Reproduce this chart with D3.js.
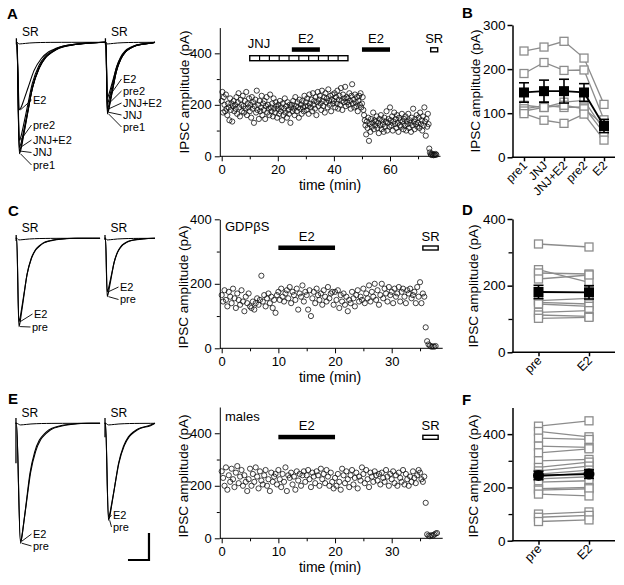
<!DOCTYPE html>
<html>
<head>
<meta charset="utf-8">
<script src="https://cdn.jsdelivr.net/npm/d3@7"></script>
<style>
  body { margin: 0; background: #fff; }
  svg { display: block; }
  text { fill: #000; }
</style>
</head>
<body>
<svg id="fig" width="624" height="585"></svg>
<script>
const FONT = 'Arial, "Liberation Sans", Helvetica, sans-serif';

// ---------------- data ----------------
// one evoked IPSC every 15 s (0.25 min)
const SAMPLE_STEP = 0.25;

const ipscA = [
  215, 250, 170, 230, 200, 175, 240, 185, 160, 205, 190, 140, 225, 180, 205, 135, 195, 215, 175, 200,
  185, 230, 165, 210, 245, 190, 155, 220, 200, 175, 235, 195, 170, 215, 185, 250, 160, 205, 190, 225,
  175, 200, 150, 230, 185, 210, 130, 195, 220, 170, 255, 180, 200, 145, 215, 175, 190, 235, 160, 205,
  180, 215, 145, 195, 230, 170, 200, 185, 160, 240, 190, 175, 205, 155, 225, 185, 170, 210, 195, 150,
  185, 200, 165, 215, 175, 190, 140, 205, 160, 185, 225, 170, 195, 150, 210, 180, 165, 200, 130, 190,
  200, 175, 215, 185, 160, 230, 195, 175, 210, 190, 150, 220, 185, 200, 165, 215, 190, 175, 235, 195,
  210, 180, 225, 195, 165, 240, 205, 190, 220, 175, 245, 200, 215, 185, 230, 160, 210, 250, 195, 220,
  235, 205, 180, 255, 215, 195, 230, 170, 245, 210, 225, 190, 260, 215, 200, 235, 175, 220, 240, 205,
  215, 245, 190, 230, 205, 255, 185, 220, 235, 200, 265, 215, 180, 240, 210, 225, 270, 195, 230, 210,
  225, 200, 245, 215, 185, 235, 280, 205, 220, 190, 240, 210, 195, 230, 175, 215, 235, 200, 245, 190,
  205, 230, 180, 160, 140, 120, 85, 135, 110, 150, 60, 125, 95, 145, 115, 130, 170, 105, 140, 120,
  135, 155, 110, 130, 90, 145, 120, 160, 105, 140, 125, 95, 150, 115, 135, 175, 100, 130, 145, 115,
  190, 140, 120, 155, 100, 135, 170, 125, 145, 110, 160, 130, 95, 150, 120, 140, 115, 165, 135, 105,
  145, 120, 155, 100, 135, 125, 165, 110, 140, 130, 95, 150, 120, 185, 135, 105, 145, 125, 160, 115,
  130, 150, 110, 170, 125, 140, 100, 155, 120, 190, 135, 80, 145, 115, 165, 125,
  30, 15, 8, 5, 10, 6, 4, 7, 5, 9, 6
];

const ipscC = [
  165, 145, 180, 150, 130, 175, 160, 140, 185, 155, 125, 170, 150, 135, 180, 145, 115, 160, 140, 170,
  130, 125, 145, 120, 140, 155, 135, 150, 225, 145, 165, 130, 155, 170, 140, 160, 125, 150, 110, 165,
  175, 150, 185, 160, 145, 170, 180, 155, 190, 140, 175, 165, 150, 185, 120, 170, 160, 195, 145, 175,
  165, 120, 180, 100, 155, 175, 140, 185, 165, 150, 170, 135, 180, 160, 145, 190, 155, 170, 175, 135,
  175, 150, 180, 125, 165, 145, 170, 135, 160, 115, 150, 140, 175, 155, 130, 165, 180, 145, 160, 150,
  185, 140, 170, 155, 195, 145, 175, 160, 200, 150, 180, 135, 165, 200, 155, 185, 170, 145, 190, 165,
  175, 140, 185, 160, 170, 190, 145, 175, 185, 160, 140, 180, 170, 185, 155, 165, 175, 140, 190, 160,
  205, 140, 170, 160,
  65, 22, 12, 8, 5, 6, 5, 7
];

const ipscE = [
  255, 230, 200, 270, 185, 240, 215, 265, 225, 195, 250, 275, 210, 235, 260, 200, 240, 215, 180, 225,
  265, 200, 245, 215, 270, 235, 190, 255, 220, 205, 240, 260, 200, 225, 180, 250, 215, 235, 245, 205,
  260, 225, 195, 245, 215, 270, 180, 240, 230, 250, 205, 235, 185, 255, 220, 245, 200, 240, 255, 215,
  240, 260, 225, 195, 250, 235, 210, 255, 240, 200, 265, 225, 245, 210, 260, 235, 200, 250, 215, 190,
  230, 200, 245, 215, 185, 265, 240, 210, 255, 225, 195, 240, 260, 205, 230, 250, 190, 235, 220, 270,
  245, 210, 260, 225, 195, 250, 235, 215, 255, 240, 220, 245, 205, 250, 230, 215, 260, 235, 200, 245,
  225, 255, 210, 240, 200, 250, 230, 215, 260, 205, 245, 225, 200, 235, 215, 255, 230, 210, 240, 260,
  250, 225, 215, 235,
  135, 15, 10, 8, 12, 10, 14, 18, 20
];

// drug applications (min)
const drugsA = [
  { label: 'JNJ', from: 10, to: 45, kind: 'ladder' },
  { label: 'E2', from: 25, to: 35, kind: 'solid' },
  { label: 'E2', from: 50, to: 60, kind: 'solid' },
  { label: 'SR', from: 74.5, to: 77, kind: 'open' }
];
const drugsC = [
  { label: 'E2', from: 10, to: 20, kind: 'solid' },
  { label: 'SR', from: 35.5, to: 38.2, kind: 'open' }
];
const drugsE = [
  { label: 'E2', from: 10, to: 20, kind: 'solid' },
  { label: 'SR', from: 35.5, to: 38.2, kind: 'open' }
];

// summary panels
const bConditions = ['pre1', 'JNJ', 'JNJ+E2', 'pre2', 'E2'];
const bCells = [
  [241, 250, 263, 225, 120],
  [190, 215, 197, 198, 85],
  [118, 113, 125, 129, 62],
  [110, 117, 113, 114, 55],
  [105, 113, 118, 110, 73],
  [99, 84, 77, 98, 39]
];
const bMean = [147, 150, 150, 147, 71];
const bSem = [22, 25, 27, 20, 15];

const pairConditions = ['pre', 'E2'];
const dPre = [325, 248, 238, 220, 155, 150, 145, 120, 112, 102];
const dE2 = [316, 210, 235, 232, 162, 145, 138, 125, 108, 105];
const dMean = [181, 180];
const dSem = [20, 20];

const fPre = [430, 410, 385, 355, 330, 300, 275, 262, 250, 240, 232, 220, 195, 190, 175, 100, 88, 72];
const fE2 = [450, 390, 380, 350, 345, 305, 295, 280, 265, 255, 240, 225, 200, 195, 168, 108, 95, 78];
const fMean = [245, 250];
const fSem = [16, 16];

// example traces: decay template (time in tau units, fraction of peak)
const templT = [0, 0.15, 0.3, 0.6, 1.0, 1.5, 2.0, 2.5, 3.0, 4.0, 5.0, 7.0];
const templV = [1, 0.95, 0.86, 0.67, 0.42, 0.24, 0.14, 0.09, 0.055, 0.025, 0.01, 0];

const namesA = ['pre1', 'JNJ', 'JNJ+E2', 'pre2', 'E2'];
const ampsALeft = [413, 403, 389, 363, 250];     // pA
const tausALeft = [12.2, 12.5, 12.8, 12.4, 14.0]; // ms
const ampsARight = [265, 259, 247, 228, 204];
const tausARight = [8.4, 8.6, 8.8, 8.5, 9.4];

const namesPair = ['pre', 'E2'];
const ampsCLeft = [327, 309];
const tausCLeft = [7.6, 8.0];
const ampsCRight = [216, 198];
const tausCRight = [6.5, 7.0];
const ampsELeft = [444, 437];
const tausELeft = [9.0, 9.6];
const ampsERight = [359, 348];
const tausERight = [9.5, 10.0];

// ---------------- drawing ----------------
const svg = d3.select('#fig');
svg.append('rect').attr('width', 624).attr('height', 585).attr('fill', '#fff');

function styleAxis(g, size) {
  g.attr('font-family', FONT).attr('font-size', size);
  g.selectAll('path, line').attr('stroke', '#000');
  g.selectAll('text').attr('fill', '#000');
}

function panelLetter(txt, x, y) {
  svg.append('text').attr('x', x).attr('y', y)
    .attr('font-family', FONT).attr('font-size', 15).attr('font-weight', 'bold')
    .attr('fill', '#000')
    .text(txt);
}

function yTitle(x, y) {
  svg.append('text')
    .attr('transform', `translate(${x},${y}) rotate(-90)`)
    .attr('text-anchor', 'middle')
    .attr('font-family', FONT).attr('font-size', 13.5)
    .attr('fill', '#000')
    .text('IPSC amplitude (pA)');
}

function scatter(o) {
  const x = d3.scaleLinear().domain([0, o.xMax]).range([221.7, o.xEnd]);
  const y = d3.scaleLinear().domain([0, o.yMax]).range([o.y0, o.yTop]);
  const g = svg.append('g');

  const xa = g.append('g').attr('transform', `translate(0,${o.y0})`)
    .call(d3.axisBottom(x).tickValues(o.xTicks).tickSize(5).tickSizeOuter(0).tickPadding(3));
  xa.select('.domain').attr('d', `M219.8,0H${o.xEnd}`);
  styleAxis(xa, 13);
  const xm = g.append('g').attr('transform', `translate(0,${o.y0})`)
    .call(d3.axisBottom(x).tickValues(o.xMinor).tickSize(3).tickFormat(''));
  xm.select('.domain').remove();
  styleAxis(xm, 12);

  const ya = g.append('g').attr('transform', 'translate(219.8,0)')
    .call(d3.axisLeft(y).tickValues([0, 200, 400]).tickSize(5).tickSizeOuter(0).tickPadding(3));
  styleAxis(ya, 13);
  const ym = g.append('g').attr('transform', 'translate(219.8,0)')
    .call(d3.axisLeft(y).tickValues([100, 300]).tickSize(3).tickFormat(''));
  ym.select('.domain').remove();
  styleAxis(ym, 12);

  g.append('g').selectAll('circle')
    .data(o.values)
    .join('circle')
    .attr('cx', (d, i) => x(i * SAMPLE_STEP))
    .attr('cy', d => y(d))
    .attr('r', 2.6)
    .attr('fill', 'none')
    .attr('stroke', '#111')
    .attr('stroke-width', 0.8);

  // drug bars
  o.drugs.forEach(dr => {
    const x0 = x(dr.from), x1 = x(dr.to);
    if (dr.kind === 'solid') {
      g.append('rect').attr('x', x0).attr('y', o.barY).attr('width', x1 - x0).attr('height', 4.5).attr('fill', '#000');
      g.append('text').attr('x', (x0 + x1) / 2).attr('y', o.barY - 4.5)
        .attr('text-anchor', 'middle').attr('font-family', FONT).attr('font-size', 13).text(dr.label);
    } else if (dr.kind === 'open') {
      g.append('rect').attr('x', x0).attr('y', o.barY + 0.5).attr('width', x1 - x0).attr('height', 4)
        .attr('fill', '#fff').attr('stroke', '#000').attr('stroke-width', 1.4);
      g.append('text').attr('x', (x0 + x1) / 2).attr('y', o.barY - 4.5)
        .attr('text-anchor', 'middle').attr('font-family', FONT).attr('font-size', 13).text(dr.label);
    } else {
      const by = o.ladderY;
      g.append('rect').attr('x', x0).attr('y', by).attr('width', x1 - x0).attr('height', 5)
        .attr('fill', '#fff').attr('stroke', '#000').attr('stroke-width', 1.4);
      const n = 10;
      d3.range(1, n).forEach(k => {
        const xx = x0 + (x1 - x0) * k / n;
        g.append('line').attr('x1', xx).attr('x2', xx).attr('y1', by).attr('y2', by + 5)
          .attr('stroke', '#000').attr('stroke-width', 1.2);
      });
      g.append('text').attr('x', x0 - 2).attr('y', by - 8)
        .attr('font-family', FONT).attr('font-size', 13).text(dr.label);
    }
  });

  if (o.tag) {
    g.append('text').attr('x', 225).attr('y', o.tagY)
      .attr('font-family', FONT).attr('font-size', 13).text(o.tag);
  }

  g.append('text').attr('x', 330).attr('y', o.y0 + 34)
    .attr('text-anchor', 'middle').attr('font-family', FONT).attr('font-size', 14)
    .text('time (min)');
}

function summary(o) {
  const x = d3.scalePoint().domain(o.cats).range(o.xRange);
  const y = d3.scaleLinear().domain([0, o.yMax]).range([o.y0, o.yTop]);
  const g = svg.append('g');
  const grey = '#8c8c8c';

  const ya = g.append('g').attr('transform', 'translate(512.5,0)')
    .call(d3.axisLeft(y).tickValues(o.yTicks).tickSize(5).tickSizeOuter(0).tickPadding(2));
  styleAxis(ya, 13.5);
  ya.selectAll('path, line').attr('stroke-width', 1.5);
  if (o.yMinor.length) {
    const ym = g.append('g').attr('transform', 'translate(512.5,0)')
      .call(d3.axisLeft(y).tickValues(o.yMinor).tickSize(4).tickFormat(''));
    ym.select('.domain').remove();
    styleAxis(ym, 12);
    ym.selectAll('line').attr('stroke-width', 1.3);
  }
  const xa = g.append('g').attr('transform', `translate(0,${o.y0})`)
    .call(d3.axisBottom(x).tickSize(4).tickFormat(''));
  xa.select('.domain').attr('d', 'M511.8,0H615');
  styleAxis(xa, 12);
  xa.selectAll('path, line').attr('stroke-width', 1.5);

  g.selectAll('text.cat').data(o.cats).join('text')
    .attr('class', 'cat')
    .attr('transform', d => `translate(${x(d) + 4},${o.y0 + 9}) rotate(-45)`)
    .attr('text-anchor', 'end')
    .attr('font-family', FONT).attr('font-size', o.catSize)
    .text(d => d);

  const line = d3.line().x((d, i) => x(o.cats[i])).y(d => y(d));
  g.append('g').selectAll('path').data(o.cells).join('path')
    .attr('d', line).attr('fill', 'none').attr('stroke', grey).attr('stroke-width', 1.3);
  const s = 8;
  o.cells.forEach(c => {
    g.append('g').selectAll('rect').data(c).join('rect')
      .attr('x', (d, i) => x(o.cats[i]) - s / 2)
      .attr('y', d => y(d) - s / 2)
      .attr('width', s).attr('height', s)
      .attr('fill', '#fff').attr('stroke', grey).attr('stroke-width', 1.3);
  });

  g.append('path').datum(o.mean).attr('d', line)
    .attr('fill', 'none').attr('stroke', '#000').attr('stroke-width', 1.8);
  o.mean.forEach((m, i) => {
    const cx = x(o.cats[i]);
    const top = y(m + o.sem[i]), bot = y(m - o.sem[i]);
    g.append('line').attr('x1', cx).attr('x2', cx).attr('y1', top).attr('y2', bot)
      .attr('stroke', '#000').attr('stroke-width', 1.6);
    [top, bot].forEach(yy => g.append('line').attr('x1', cx - 5).attr('x2', cx + 5)
      .attr('y1', yy).attr('y2', yy).attr('stroke', '#000').attr('stroke-width', 1.6));
    if (o.round) {
      g.append('circle').attr('cx', cx).attr('cy', y(m)).attr('r', 5.5).attr('fill', '#000');
    } else {
      g.append('rect').attr('x', cx - 5).attr('y', y(m) - 5).attr('width', 10).attr('height', 10).attr('fill', '#000');
    }
  });
}

// example current traces
const traceX = d3.scaleLinear().domain([0, 140]).range([15, 162]); // 20 ms = 21 px
function traceRow(o) {
  const ty = d3.scaleLinear().domain([0, 100]).range([o.baseline, o.baseline + 27]);
  const g = svg.append('g');
  const line = d3.line().x(d => traceX(d[0])).y(d => ty(d[1])).curve(d3.curveMonotoneX);

  o.groups.forEach(gr => {
    // stimulus artifact
    g.append('line').attr('x1', traceX(gr.onset) - 0.5).attr('x2', traceX(gr.onset) - 0.5)
      .attr('y1', ty(-gr.artifact[0])).attr('y2', ty(gr.artifact[1]))
      .attr('stroke', '#000').attr('stroke-width', 1.3);

    const mk = (amp, tau) => {
      const pts = [[gr.onset - 0.8, 0], [gr.onset, 0]];
      templT.forEach((t, k) => {
        const tt = gr.onset + gr.rise + t * tau;
        if (tt < gr.end) pts.push([tt, amp * templV[k]]);
      });
      pts.push([gr.end, 0]);
      return pts;
    };
    // SR trace (blocked)
    g.append('path').attr('d', line(mk(6, 10))).attr('fill', 'none')
      .attr('stroke', '#000').attr('stroke-width', 1);

    gr.amps.forEach((a, i) => {
      g.append('path').attr('d', line(mk(a, gr.taus[i]))).attr('fill', 'none')
        .attr('stroke', '#000').attr('stroke-width', 1.1);
      const px = traceX(gr.onset + gr.rise) + 1.2, py = ty(a);
      const [lx, lyy] = gr.labels[i];
      g.append('line').attr('x1', px).attr('y1', py).attr('x2', lx - 1.5).attr('y2', lyy)
        .attr('stroke', '#000').attr('stroke-width', 0.9);
      g.append('text').attr('x', lx).attr('y', lyy).attr('dy', '0.35em')
        .attr('font-family', FONT).attr('font-size', 11).attr('fill', '#000').text(gr.names[i]);
    });

    g.append('text').attr('x', traceX(gr.onset) + 5).attr('y', o.baseline - 6)
      .attr('font-family', FONT).attr('font-size', 12).attr('fill', '#000').text('SR');
  });
}

// ---------- row A/B ----------
panelLetter('A', 7, 19);
traceRow({
  baseline: 42.3,
  groups: [
    { onset: 1.8, end: 85.7, rise: 2.3, artifact: [15, 8], amps: ampsALeft, taus: tausALeft, names: namesA,
      labels: [[33, 165], [33, 152.5], [33, 140], [33, 125], [33, 100]] },
    { onset: 86.6, end: 133.3, rise: 1.3, artifact: [15, 8], amps: ampsARight, taus: tausARight, names: namesA,
      labels: [[123, 127], [123, 115], [123, 103], [123, 91], [123, 79]] }
  ]
});
yTitle(189, 92);
scatter({ values: ipscA, xMax: 78, xEnd: 440.5, yMax: 500, y0: 156.3, yTop: 27.6,
  xTicks: [0, 20, 40, 60], xMinor: [10, 30, 50, 70], drugs: drugsA, barY: 47.3, ladderY: 55.7 });

panelLetter('B', 462, 18);
yTitle(480, 91);
summary({ cats: bConditions, xRange: [524, 604], yMax: 300, y0: 157.3, yTop: 25,
  yTicks: [0, 100, 200, 300], yMinor: [], cells: bCells, mean: bMean, sem: bSem, catSize: 12 });

// ---------- row C/D ----------
panelLetter('C', 8, 216);
traceRow({
  baseline: 238.3,
  groups: [
    { onset: 1.6, end: 81, rise: 2.1, artifact: [12, 10], amps: ampsCLeft, taus: tausCLeft, names: namesPair,
      labels: [[32, 327], [34, 314]] },
    { onset: 86.2, end: 133.3, rise: 1.6, artifact: [12, 6], amps: ampsCRight, taus: tausCRight, names: namesPair,
      labels: [[120, 299.5], [120, 287]] }
  ]
});
yTitle(188, 287);
scatter({ values: ipscC, xMax: 39, xEnd: 442.7, yMax: 400, y0: 348.3, yTop: 219.3,
  xTicks: [0, 10, 20, 30], xMinor: [5, 15, 25, 35], drugs: drugsC, barY: 245.5,
  tag: 'GDPβS', tagY: 231 });

panelLetter('D', 462, 215);
yTitle(478, 286);
summary({ cats: pairConditions, xRange: [538.5, 589], yMax: 400, y0: 352.3, yTop: 219,
  yTicks: [0, 200, 400], yMinor: [100, 300], cells: dPre.map((v, i) => [v, dE2[i]]),
  mean: dMean, sem: dSem, catSize: 12.5 });

// ---------- row E/F ----------
panelLetter('E', 8, 404);
traceRow({
  baseline: 423.3,
  groups: [
    { onset: 1.4, end: 81, rise: 3.8, artifact: [20, 148], amps: ampsELeft, taus: tausELeft, names: namesPair,
      labels: [[33, 546], [33, 534]] },
    { onset: 86.2, end: 133.3, rise: 2.8, artifact: [20, 52], amps: ampsERight, taus: tausERight, names: namesPair,
      labels: [[113, 527], [113, 515]] }
  ]
});
// scale bar
svg.append('path')
  .attr('d', `M${traceX(107.6)},560H${traceX(127.6)}V${560 - 27}`)
  .attr('fill', 'none').attr('stroke', '#000').attr('stroke-width', 2.2);
yTitle(188, 476);
scatter({ values: ipscE, xMax: 39, xEnd: 442.7, yMax: 500, y0: 538.3, yTop: 407,
  xTicks: [0, 10, 20, 30], xMinor: [5, 15, 25, 35], drugs: drugsE, barY: 434.8,
  tag: 'males', tagY: 421 });

panelLetter('F', 462, 405);
yTitle(478, 476);
summary({ cats: pairConditions, xRange: [538.5, 589], yMax: 500, y0: 540.7, yTop: 407.5,
  yTicks: [0, 200, 400], yMinor: [100, 300], cells: fPre.map((v, i) => [v, fE2[i]]),
  mean: fMean, sem: fSem, catSize: 12.5, round: true });
</script>
</body>
</html>
